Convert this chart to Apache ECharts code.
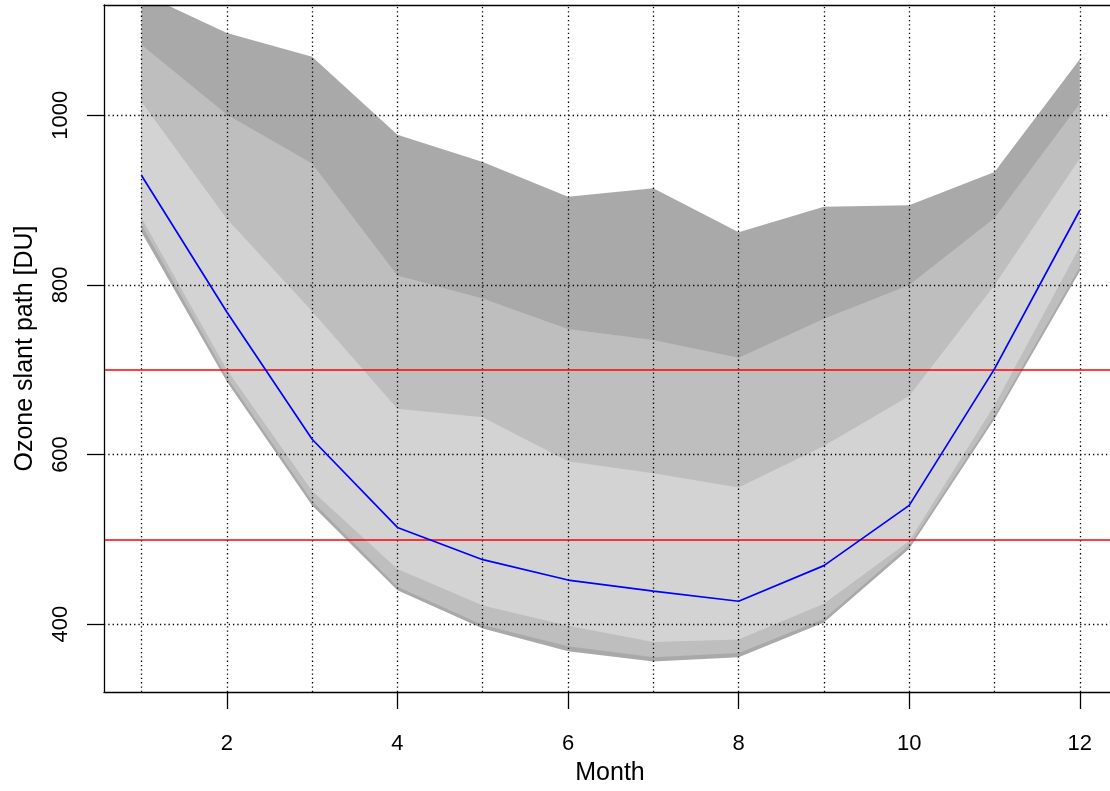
<!DOCTYPE html>
<html>
<head>
<meta charset="utf-8">
<script src="https://cdn.jsdelivr.net/npm/echarts@6/dist/echarts.min.js"></script>
<style>
html,body{margin:0;padding:0;background:#fff;}
#chart{width:1110px;height:791px;}
</style>
</head>
<body>
<div id="chart"></div>
<script>
const months = [1, 2, 3, 4, 5, 6, 7, 8, 9, 10, 11, 12];
const medianOzone = [929, 768, 618, 514, 476, 452, 439, 427, 469, 540, 701, 888];
const outerUpper = [1144, 1097, 1069, 977, 945, 904, 914, 862, 892, 894, 933, 1066];
const middleUpper = [1083, 1001, 943, 811, 784, 748, 735, 714, 760, 800, 879, 1014];
const innerUpper = [1016, 878, 769, 654, 644, 592, 578, 561, 610, 669, 800, 949];
const innerLower = [879, 700, 557, 465, 422, 398, 379, 382, 424, 498, 658, 845];
const middleLower = [871, 691, 545, 444, 399, 374, 361, 366, 406, 493, 646, 821];
const outerLower = [862, 686, 540, 440, 395, 368, 356, 361, 402, 489, 642, 816];
const thresholds = [500, 700];
const xTickLabels = [2, 4, 6, 8, 10, 12];
const yTickLabels = [400, 600, 800, 1000];
const xGridLines = [1, 2, 3, 4, 5, 6, 7, 8, 9, 10, 11, 12];
const yGridLines = [400, 600, 800, 1000];

const FONT = 'Liberation Sans';
const pairs = arr => months.map((m, i) => [m, arr[i]]);

const bands = [
  {lower: outerLower, upper: outerUpper, color: '#A9A9A9'},
  {lower: middleLower, upper: middleUpper, color: '#BEBEBE'},
  {lower: innerLower, upper: innerUpper, color: '#D3D3D3'}
];

function bandSeries(b, idx) {
  return {
    name: 'band' + idx, type: 'custom', silent: true, z: 1,
    data: [[months[0], b.lower[0]]],
    renderItem: function (params, api) {
      const pts = [];
      months.forEach((m, i) => pts.push(api.coord([m, b.upper[i]])));
      for (let i = months.length - 1; i >= 0; i--) pts.push(api.coord([months[i], b.lower[i]]));
      const cs = params.coordSys;
      return {
        type: 'polygon',
        shape: {points: pts},
        style: {fill: b.color, stroke: null},
        clipPath: {type: 'rect', shape: {x: cs.x, y: cs.y, width: cs.width, height: cs.height}}
      };
    }
  };
}

const dotted = {color: '#000', width: 1.3, type: [1.3, 3], cap: 'butt'};
const X_MIN = 0.56, X_MAX = 12.354;

const option = {
  animation: false,
  backgroundColor: '#fff',
  textStyle: {fontFamily: FONT},
  grid: {left: 104, top: 5, right: 0, height: 688, containLabel: false},
  xAxis: [{
    type: 'value', min: X_MIN, max: X_MAX, z: 10,
    axisLine: {show: true, onZero: false, lineStyle: {color: '#000', width: 1.3}},
    axisTick: {show: true, customValues: xTickLabels, length: 17, lineStyle: {color: '#000', width: 1.3}},
    axisLabel: {show: true, customValues: xTickLabels, fontSize: 22, color: '#000', fontFamily: FONT, margin: 41,
      formatter: v => String(v), showMaxLabel: true},
    splitLine: {show: false},
    name: 'Month', nameLocation: 'middle', nameGap: 69,
    nameTextStyle: {fontSize: 25, color: '#000', fontFamily: FONT, padding: [0, 0, 0, 6]}
  }, {
    type: 'value', min: X_MIN, max: X_MAX, position: 'top', z: 10,
    axisLine: {show: true, onZero: false, lineStyle: {color: '#000', width: 1.3}},
    axisTick: {show: false}, axisLabel: {show: false}, splitLine: {show: false}
  }],
  yAxis: [{
    type: 'value', min: 320, max: 1130, z: 10,
    axisLine: {show: true, onZero: false, lineStyle: {color: '#000', width: 1.3}},
    axisTick: {show: true, customValues: yTickLabels, length: 17, lineStyle: {color: '#000', width: 1.3}},
    axisLabel: {show: true, customValues: yTickLabels, rotate: 90, fontSize: 22, color: '#000', fontFamily: FONT, margin: 32,
      formatter: v => String(v)},
    splitLine: {show: false},
    name: 'Ozone slant path [DU]', nameLocation: 'middle', nameGap: 66,
    nameTextStyle: {fontSize: 25, color: '#000', fontFamily: FONT}
  }],
  series: [
    ...bands.map(bandSeries),
    {
      name: 'grid', type: 'line', data: [], silent: true, z: 3,
      markLine: {
        silent: true, symbol: 'none', label: {show: false}, animation: false,
        lineStyle: dotted,
        emphasis: {disabled: true},
        data: [
          ...xGridLines.map(v => ({xAxis: v})),
          ...yGridLines.map(v => ({yAxis: v}))
        ]
      }
    },
    {
      name: 'thresholds', type: 'line', data: [], silent: true, z: 4,
      markLine: {
        silent: true, symbol: 'none', label: {show: false}, animation: false,
        lineStyle: {color: '#FF0000', width: 1.7, type: 'solid'},
        emphasis: {disabled: true},
        data: thresholds.map(v => ({yAxis: v}))
      }
    },
    {
      name: 'median', type: 'line', data: pairs(medianOzone),
      showSymbol: false, symbol: 'none',
      lineStyle: {color: '#0000FF', width: 1.7}, z: 5, silent: true
    }
  ]
};

const chart = echarts.init(document.getElementById('chart'), null, {renderer: 'canvas'});
chart.setOption(option);
</script>
</body>
</html>
